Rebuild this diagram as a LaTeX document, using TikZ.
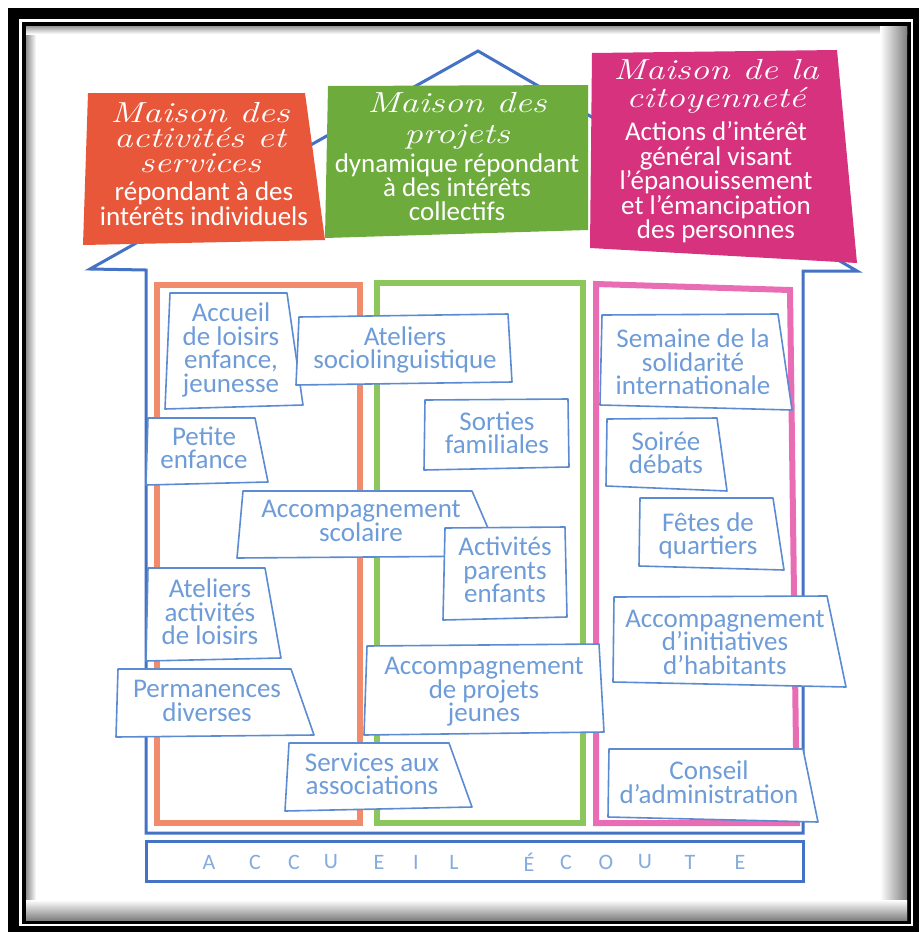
\documentclass[tikz,border=0pt]{standalone}
\usepackage{fontspec}
\setmainfont{Carlito}
\newfontfamily\handfont{Latin Modern Roman}[FakeStretch=1.28]
\usetikzlibrary{positioning}
\definecolor{houseblue}{HTML}{4472C4}
\definecolor{tileblue}{HTML}{5B8BD2}
\definecolor{tiletextblue}{HTML}{6E9CD8}
\definecolor{actorange}{HTML}{E8573A}
\definecolor{projgreen}{HTML}{6DAB3C}
\definecolor{citmagenta}{HTML}{D6327D}
\definecolor{lineorange}{HTML}{F28A6C}
\definecolor{linegreen}{HTML}{8CC65C}
\definecolor{linemagenta}{HTML}{E96DB4}
\newcommand{\sizeto}[2]{\fontsize{#1}{#2}\selectfont}
\setlength{\lineskiplimit}{-100pt}

\begin{document}
\begin{tikzpicture}[x=1pt, y=-1pt,
    house/.style={draw=houseblue, line width=3pt},
    column/.style={draw=#1, line width=6pt},
    tile/.style={draw=tileblue, fill=white, line width=1.6pt, line join=round},
    tiletext/.style={align=center, inner sep=0pt, text=tiletextblue, font=\sizeto{27}{23.5}},
    headtitle/.style={align=center, inner sep=0pt, text=white, font=\handfont\itshape\sizeto{29}{#1}},
    headtext/.style={align=center, inner sep=0pt, text=white, font=\sizeto{27}{#1}},
    letter/.style={inner sep=0pt, text=tiletextblue!85, font=\sizeto{22}{22}}]
  \useasboundingbox (0,0) rectangle (919,932);
  % Frame of the scan
  \fill[black] (8,8) rectangle (919,932);
  \fill[white] (19,19) rectangle (913,926);
  \fill[black] (22,22) rectangle (911,923.5);
  \fill[white] (26,26) rectangle (907,920);
  \shade[left color=black!45, right color=white] (26,26) rectangle (36,920);
  \shade[top color=black!40, bottom color=white] (26,26) rectangle (907,34);
  \shade[left color=white, right color=black!50] (880,26) rectangle (907,920);
  \shade[top color=white, bottom color=black!50] (26,900) rectangle (907,920);
  % House outline and bottom band
  \draw[house] (146,833) -- (146,270) -- (90,269) -- (478,51) -- (857,271) -- (803,271) -- (803,833) -- cycle;
  \draw[house] (146,841) rectangle (803,881);
  \foreach \ch/\x [count=\i] in {A/209,C/255,C/294,U/331,E/379,I/416,L/454,É/529,C/566,O/606,U/645,T/690,E/740}
    \node[letter] (band\i) at (\x,862) {\ch};
  % Column frames
  \draw[column=lineorange] (157,285) rectangle (360,823);
  \draw[column=linegreen] (377,283) rectangle (583,823);
  \draw[column=linemagenta] (596,284) -- (790,290) -- (797,823) -- (596,823) -- cycle;
  % Header boxes
  \fill[actorange] (88,93) -- (305,93) -- (325,240) -- (83,245) -- cycle;
  \fill[projgreen] (328,86) -- (588,85) -- (588,230) -- (325,238) -- cycle;
  \fill[citmagenta] (592,53) -- (837,50) -- (857,263) -- (590,248) -- cycle;
  \node[headtitle=25] (actTitle) at (200,138) {Maison des\\activités et\\services};
  \node[headtext=24.5, below=8.5pt of actTitle, xshift=4pt] (actText) {répondant à des\\intérêts individuels};
  \node[headtitle=31] (projTitle) at (457,121) {Maison des\\projets};
  \node[headtext=24, below=4pt of projTitle] (projText) {dynamique répondant\\à des intérêts\\collectifs};
  \node[headtitle=28] (citTitle) at (716,86.5) {Maison de la\\citoyenneté};
  \node[headtext=24.5, below=8pt of citTitle] (citText) {Actions d’intérêt\\général visant\\l’épanouissement\\et l’émancipation\\des personnes};
  % Tiles of the first column
  \filldraw[tile] (170,293) -- (287,293) -- (303,405) -- (165,409) -- cycle;
  \node[tiletext] (accueil) at (231,350) {Accueil\\de loisirs\\enfance,\\jeunesse};
  \filldraw[tile] (299,317) -- (508,314) -- (512,382) -- (296,385) -- cycle;
  \node[tiletext] (socio) at (405,350) {Ateliers\\sociolinguistique};
  \filldraw[tile] (148,418) -- (255,418) -- (268,482) -- (146,485) -- cycle;
  \node[tiletext] (petite) at (204,448) {Petite\\enfance};
  \filldraw[tile] (148,568) -- (265,568) -- (281,658) -- (146,661) -- cycle;
  \node[tiletext] (loisirs) at (210,612) {Ateliers\\activités\\de loisirs};
  \filldraw[tile] (118,669) -- (291,669) -- (314,735) -- (116,737) -- cycle;
  \node[tiletext] (permanences) at (207,701) {Permanences\\diverses};
  \filldraw[tile] (289,743) -- (449,743) -- (472,807) -- (285,811) -- cycle;
  \node[tiletext] (services) at (372,774) {Services aux\\associations};
  % Tiles of the second column
  \filldraw[tile] (425,400) -- (568,399) -- (569,467) -- (424,470) -- cycle;
  \node[tiletext] (sorties) at (497,433) {Sorties\\familiales};
  \filldraw[tile] (243,491) -- (472,491) -- (500,556) -- (237,558) -- cycle;
  \node[tiletext] (scolaire) at (361,521) {Accompagnement\\scolaire};
  \filldraw[tile] (445,528) -- (565,527) -- (567,617) -- (443,620) -- cycle;
  \node[tiletext] (parents) at (505,570) {Activités\\parents\\enfants};
  \filldraw[tile] (367,646) -- (599,644) -- (604,732) -- (364,735) -- cycle;
  \node[tiletext] (jeunes) at (484,692) {Accompagnement\\de projets\\jeunes};
  % Tiles of the third column
  \filldraw[tile] (602,315) -- (778,314) -- (792,410) -- (600,405) -- cycle;
  \node[tiletext] (semaine) at (693,362) {Semaine de la\\solidarité\\internationale};
  \filldraw[tile] (607,419) -- (717,418) -- (727,491) -- (606,486) -- cycle;
  \node[tiletext] (soiree) at (666,453) {Soirée\\débats};
  \filldraw[tile] (640,498) -- (773,498) -- (784,570) -- (639,566) -- cycle;
  \node[tiletext] (fetes) at (708,536) {Fêtes de\\quartiers};
  \filldraw[tile] (614,597) -- (827,596) -- (846,687) -- (613,682) -- cycle;
  \node[tiletext] (initiatives) at (725,642) {Accompagnement\\d’initiatives\\d’habitants};
  \filldraw[tile] (609,749) -- (803,749) -- (818,822) -- (608,817) -- cycle;
  \node[tiletext] (conseil) at (709,782) {Conseil\\d’administration};
\end{tikzpicture}
\end{document}
